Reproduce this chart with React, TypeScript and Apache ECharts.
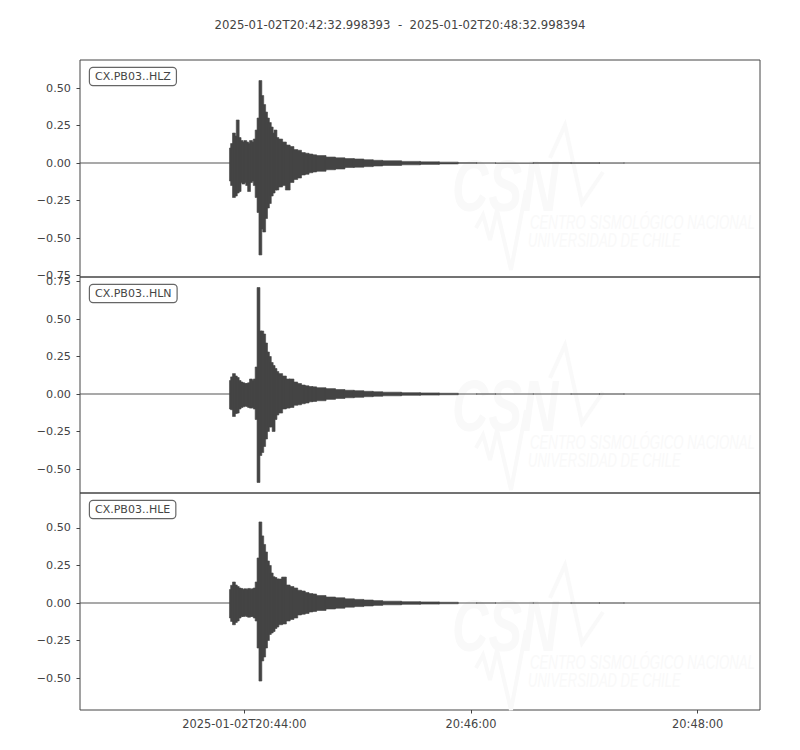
import React, { useEffect, useRef } from 'react';
import * as echarts from 'echarts';

const titleText = '2025-01-02T20:42:32.998393  -  2025-01-02T20:48:32.998394';
const channelNames = ['CX.PB03..HLZ', 'CX.PB03..HLN', 'CX.PB03..HLE'];
const timeSpan = 360.000001; // seconds after 20:42:32.998393
const xTickSeconds = [87.001607, 207.001607, 327.001607];
const xTickLabels = ['2025-01-02T20:44:00', '20:46:00', '20:48:00'];
const yRanges = [[-0.76, 0.687], [-0.66, 0.78], [-0.713, 0.733]];
const yTicks = [
  [-0.75, -0.5, -0.25, 0, 0.25, 0.5],
  [-0.5, -0.25, 0, 0.25, 0.5, 0.75],
  [-0.5, -0.25, 0, 0.25, 0.5],
];

// start time (s) of each min/max bin of the traces
const binStarts = [
  0, 79.4, 80, 81, 82, 83, 84, 85, 86, 87, 88, 89, 90, 91, 92, 93, 94, 95, 96, 97, 98, 99, 100,
  101, 102, 103, 104, 105, 107, 109, 111, 113, 115, 117, 119, 121, 123, 125, 130, 135, 140, 145,
  150, 155, 160, 170, 180, 190, 200, 210, 220, 240, 260, 275, 288,
];

const hlzHi = [
  0.003, 0.10, 0.13, 0.20, 0.18, 0.287, 0.17, 0.15, 0.14, 0.15, 0.14, 0.13, 0.15, 0.14, 0.16, 0.22,
  0.30, 0.55, 0.45, 0.39, 0.34, 0.30, 0.27, 0.24, 0.20, 0.22, 0.17, 0.16, 0.14, 0.12, 0.11, 0.09,
  0.085, 0.07, 0.065, 0.06, 0.055, 0.05, 0.04, 0.035, 0.03, 0.027, 0.022, 0.018, 0.015, 0.011,
  0.008, 0.006, 0.005, 0.004, 0.004, 0.005, 0.005, 0.004, 0.002,
];
const hlzLo = [
  -0.003, -0.12, -0.15, -0.23, -0.22, -0.20, -0.19, -0.13, -0.14, -0.13, -0.15, -0.19, -0.13, -0.12,
  -0.15, -0.23, -0.33, -0.613, -0.44, -0.46, -0.37, -0.30, -0.27, -0.22, -0.20, -0.18, -0.18, -0.16,
  -0.15, -0.18, -0.13, -0.11, -0.10, -0.08, -0.075, -0.065, -0.06, -0.055, -0.045, -0.04, -0.03,
  -0.028, -0.024, -0.02, -0.016, -0.012, -0.009, -0.006, -0.005, -0.004, -0.004, -0.005, -0.005,
  -0.004, -0.002,
];
const hlnHi = [
  0.003, 0.09, 0.114, 0.136, 0.12, 0.11, 0.09, 0.08, 0.075, 0.07, 0.07, 0.075, 0.10, 0.09, 0.10,
  0.18, 0.71, 0.42, 0.42, 0.40, 0.34, 0.28, 0.25, 0.21, 0.19, 0.17, 0.15, 0.136, 0.12, 0.10, 0.10,
  0.08, 0.07, 0.06, 0.055, 0.05, 0.048, 0.042, 0.036, 0.03, 0.025, 0.022, 0.018, 0.015, 0.012,
  0.009, 0.007, 0.005, 0.004, 0.004, 0.004, 0.004, 0.004, 0.004, 0.002,
];
const hlnLo = [
  -0.003, -0.10, -0.105, -0.15, -0.13, -0.127, -0.10, -0.09, -0.085, -0.08, -0.083, -0.09, -0.094,
  -0.09, -0.10, -0.17, -0.59, -0.41, -0.39, -0.35, -0.30, -0.25, -0.22, -0.22, -0.25, -0.17, -0.14,
  -0.127, -0.10, -0.094, -0.09, -0.075, -0.072, -0.065, -0.06, -0.052, -0.05, -0.045, -0.036, -0.03,
  -0.025, -0.022, -0.018, -0.015, -0.012, -0.009, -0.007, -0.005, -0.004, -0.004, -0.004, -0.004,
  -0.004, -0.004, -0.002,
];
const hleHi = [
  0.003, 0.09, 0.118, 0.14, 0.12, 0.11, 0.10, 0.097, 0.09, 0.095, 0.09, 0.097, 0.09, 0.095, 0.10,
  0.14, 0.30, 0.54, 0.447, 0.39, 0.34, 0.28, 0.25, 0.20, 0.175, 0.17, 0.16, 0.16, 0.173, 0.12, 0.11,
  0.10, 0.085, 0.08, 0.07, 0.063, 0.06, 0.05, 0.04, 0.035, 0.028, 0.024, 0.02, 0.016, 0.012, 0.009,
  0.007, 0.005, 0.004, 0.004, 0.004, 0.004, 0.004, 0.004, 0.002,
];
const hleLo = [
  -0.003, -0.10, -0.123, -0.145, -0.13, -0.12, -0.10, -0.09, -0.09, -0.085, -0.09, -0.095, -0.09,
  -0.09, -0.10, -0.12, -0.30, -0.52, -0.386, -0.36, -0.30, -0.25, -0.21, -0.20, -0.19, -0.17, -0.16,
  -0.145, -0.14, -0.12, -0.11, -0.10, -0.08, -0.075, -0.07, -0.06, -0.057, -0.05, -0.04, -0.035,
  -0.028, -0.024, -0.02, -0.016, -0.012, -0.009, -0.007, -0.005, -0.004, -0.004, -0.004, -0.004,
  -0.004, -0.004, -0.002,
];

const traces = [
  [hlzHi, hlzLo],
  [hlnHi, hlnLo],
  [hleHi, hleLo],
];

const TEXT = '#444444';
const FONT = '"DejaVu Sans", sans-serif';
const WM = '#f9f9f9';

const gridBoxes = [
  { top: 60, height: 217 },
  { top: 277, height: 216 },
  { top: 493, height: 217 },
];

function fmtY(v: number) {
  const s = Math.abs(v).toFixed(2);
  return v < 0 ? '\u2212' + s : s;
}

function watermark(dy: number) {
  return {
    type: 'group',
    x: 0,
    y: dy,
    silent: true,
    z: 0,
    children: [
      {
        type: 'text',
        x: 452,
        y: 150,
        scaleX: 0.7,
        style: { text: 'CSN', font: 'italic bold 72px "Liberation Sans"', fill: WM },
      },
      {
        type: 'polyline',
        shape: { points: [[550, 158], [565, 125], [582, 203], [603, 172]] },
        style: { stroke: WM, lineWidth: 4, fill: 'none' },
      },
      {
        type: 'polyline',
        shape: { points: [[476, 228], [483, 215], [490, 240], [497, 210], [511, 270], [526, 190]] },
        style: { stroke: WM, lineWidth: 4, fill: 'none' },
      },
      {
        type: 'text',
        x: 530,
        y: 211,
        scaleX: 0.63,
        style: { text: 'CENTRO SISMOLÓGICO NACIONAL', font: 'italic 21px "Liberation Sans"', fill: WM },
      },
      {
        type: 'text',
        x: 528,
        y: 229,
        scaleX: 0.62,
        style: { text: 'UNIVERSIDAD DE CHILE', font: 'italic 21px "Liberation Sans"', fill: WM },
      },
    ],
  };
}

function buildOption() {
  const grid = gridBoxes.map((g) => ({
    left: 80,
    right: 40,
    top: g.top,
    height: g.height,
    show: true,
    borderColor: TEXT,
    borderWidth: 1,
    backgroundColor: 'transparent',
    containLabel: false,
  }));

  const xAxis = gridBoxes.map((_, i) => {
    const bottom = i === gridBoxes.length - 1;
    return {
      type: 'value',
      gridIndex: i,
      position: 'bottom',
      min: 0,
      max: timeSpan,
      splitLine: { show: false },
      axisLine: { show: false, onZero: false },
      axisTick: {
        show: bottom,
        length: 3.5,
        customValues: xTickSeconds,
        lineStyle: { color: TEXT, width: 1 },
      },
      axisLabel: {
        show: bottom,
        customValues: xTickSeconds,
        margin: 8,
        color: TEXT,
        fontSize: 11.4,
        fontFamily: FONT,
        formatter: (v: number) => {
          let best = 0;
          xTickSeconds.forEach((t, k) => {
            if (Math.abs(t - v) < Math.abs(xTickSeconds[best] - v)) best = k;
          });
          return xTickLabels[best];
        },
      },
    };
  });

  const yAxis = gridBoxes.map((_, i) => ({
    type: 'value',
    gridIndex: i,
    min: yRanges[i][0],
    max: yRanges[i][1],
    splitLine: { show: false },
    axisLine: { show: false, onZero: false },
    axisTick: {
      show: true,
      length: 3.5,
      customValues: yTicks[i],
      lineStyle: { color: TEXT, width: 1 },
    },
    axisLabel: {
      customValues: yTicks[i],
      margin: 9,
      color: TEXT,
      fontSize: 11.2,
      fontFamily: FONT,
      formatter: (v: number) => fmtY(v),
    },
  }));

  const series = traces.map(([hi, lo], i) => ({
    type: 'custom',
    xAxisIndex: i,
    yAxisIndex: i,
    clip: true,
    z: 5,
    encode: { x: [0, 1], y: [2, 3] },
    data: binStarts.map((t, k) => [
      t,
      k + 1 < binStarts.length ? binStarts[k + 1] : timeSpan,
      hi[k],
      lo[k],
    ]),
    renderItem: (_params: any, api: any) => {
      const a = api.coord([api.value(0), api.value(2)]);
      const b = api.coord([api.value(1), api.value(3)]);
      let y0 = a[1];
      let h = b[1] - a[1];
      const thin = h < 1.5;
      if (thin) {
        const c = (a[1] + b[1]) / 2;
        h = Math.max(1, h);
        y0 = c - h / 2;
      }
      return {
        type: 'rect',
        shape: { x: a[0] - 0.5, y: y0, width: b[0] - a[0] + 1, height: h },
        style: thin
          ? { fill: '#555555' }
          : { fill: TEXT, stroke: TEXT, lineWidth: 0.6 },
      };
    },
  }));

  const labelBoxes = channelNames.map((name, i) => ({
    type: 'text',
    x: 90,
    y: gridBoxes[i].top + 8,
    z: 100,
    style: {
      text: name,
      font: '11px "DejaVu Sans"',
      fill: TEXT,
      backgroundColor: '#ffffff',
      borderColor: '#666666',
      borderWidth: 1.2,
      borderRadius: 3,
      padding: [3, 5, 3, 5],
    },
  }));

  return {
    animation: false,
    backgroundColor: '#ffffff',
    textStyle: { fontFamily: FONT },
    title: {
      text: titleText,
      left: 'center',
      top: 14,
      textStyle: { fontSize: 11.7, fontWeight: 'normal', color: TEXT, fontFamily: FONT },
    },
    grid,
    xAxis,
    yAxis,
    series,
    graphic: [watermark(0), watermark(220), watermark(440), ...labelBoxes],
  };
}

export default function App() {
  const ref = useRef<HTMLDivElement>(null);
  useEffect(() => {
    if (!ref.current) return;
    const chart = echarts.init(ref.current, undefined, { renderer: 'svg' });
    chart.setOption(buildOption() as any);
    return () => chart.dispose();
  }, []);
  return (
    <div
      ref={ref}
      style={{ position: 'fixed', left: 0, top: 0, width: 800, height: 750, background: '#fff' }}
    />
  );
}
